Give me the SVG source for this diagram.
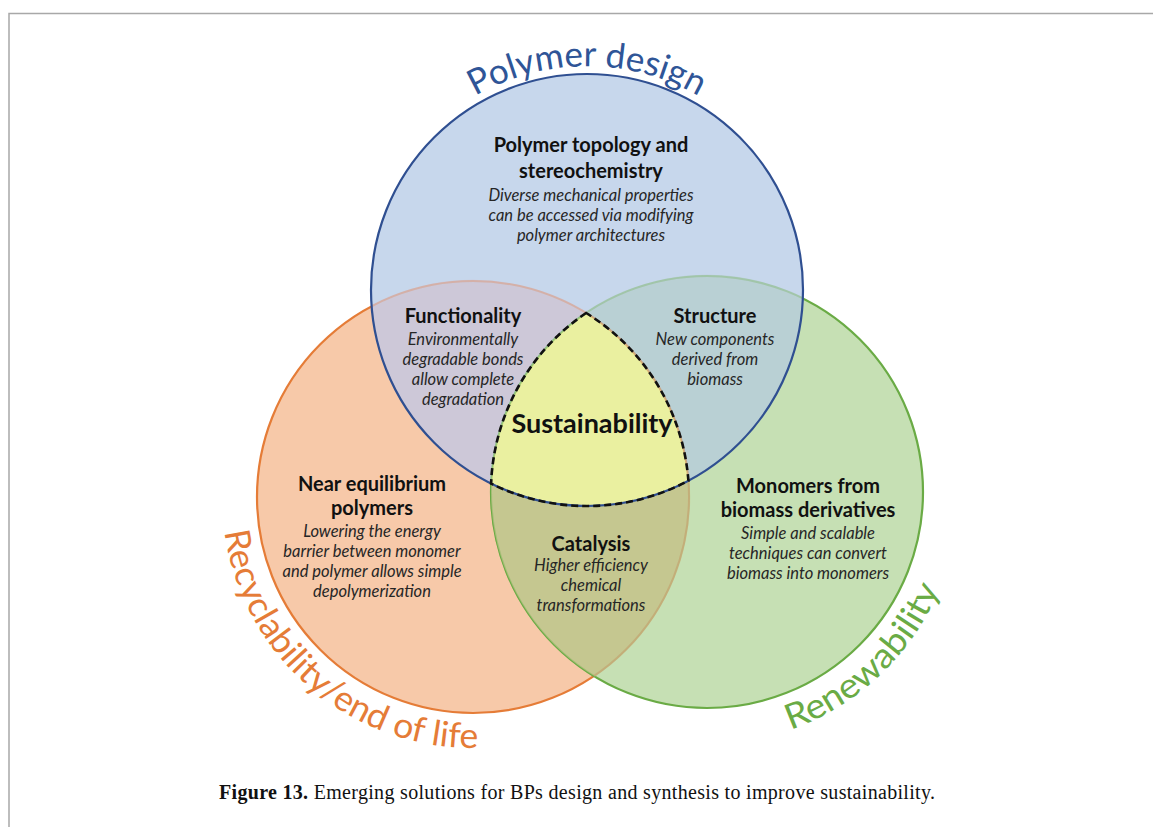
<svg xmlns="http://www.w3.org/2000/svg" width="1153" height="827" viewBox="0 0 1153 827">
<style>
.h{font-family:Lato,"Open Sans","Liberation Sans",sans-serif;font-weight:bold;font-size:20px;fill:#111;text-anchor:middle}
.d{font-family:Lato,"Open Sans","Liberation Sans",sans-serif;font-style:italic;font-size:16.5px;fill:#262626;text-anchor:middle}
.arc{font-family:Lato,"Open Sans","Liberation Sans",sans-serif;font-size:35px}
.cap{font-family:"Liberation Serif",serif;font-size:20px;fill:#111}
</style>
<defs>
<clipPath id="cB"><circle cx="587" cy="290" r="216"/></clipPath>
<clipPath id="cO"><circle cx="473" cy="497" r="216"/></clipPath>
<clipPath id="cG"><circle cx="707" cy="492" r="216"/></clipPath>
<path id="lens" d="M586.1,313 A216,216 0 0 0 491.1,483.6 A216,216 0 0 0 688.4,480.7 A216,216 0 0 0 586.1,313 Z"/>
<path id="pTop" d="M443,118.4 A225,225 0 0 1 731,118.4"/>
<path id="pLeft" d="M222,497 A251,251 0 0 0 558.8,732.9"/>
<path id="pRight" d="M707,744 A252,252 0 0 0 955.2,535.8"/>
</defs>
<rect width="1153" height="827" fill="#fff"/>
<g id="frame" fill="none" stroke="#a8a8a8" stroke-width="1.5">
<path d="M9,827 V13.5 H1153"/>
</g>
<g id="circles">
<circle id="circle-recyclability" cx="473" cy="497" r="216" fill="#f7c9a9" stroke="#e57c37" stroke-width="2.2"/>
<circle id="circle-renewability" cx="707" cy="492" r="216" fill="#c6e0b4" stroke="#6aab45" stroke-width="2.2"/>
<circle cx="587" cy="290" r="216" fill="#c7d7ec"/>
<circle cx="473" cy="497" r="217.2" fill="#c5c790" clip-path="url(#cG)"/>
<circle cx="473" cy="497" r="217.2" fill="#cdc8d8" clip-path="url(#cB)"/>
<circle cx="707" cy="492" r="217.2" fill="#b9d0d4" clip-path="url(#cB)"/>
<use href="#lens" fill="#eaf0a0"/>
<circle cx="473" cy="497" r="216" fill="none" stroke="#e57c37" stroke-opacity="0.3" stroke-width="2" clip-path="url(#cB)"/>
<circle cx="707" cy="492" r="216" fill="none" stroke="#6aab45" stroke-opacity="0.3" stroke-width="2" clip-path="url(#cB)"/>
<circle cx="473" cy="497" r="216" fill="none" stroke="#c08050" stroke-opacity="0.35" stroke-width="2" clip-path="url(#cG)"/>
<circle cx="707" cy="492" r="216" fill="none" stroke="#6aab45" stroke-opacity="0.35" stroke-width="2" clip-path="url(#cO)"/>
<circle id="circle-polymer" cx="587" cy="290" r="216" fill="none" stroke="#2f4f91" stroke-width="2.2"/>
<use id="sustainability-outline" href="#lens" fill="none" stroke="#111" stroke-width="2.6" stroke-dasharray="7,4"/>
</g>
<g id="arc-labels" class="arc">
<text fill="#2f5597" text-anchor="middle"><textPath href="#pTop" startOffset="50%" textLength="234" lengthAdjust="spacingAndGlyphs">Polymer design</textPath></text>
<text fill="#e57c37"><textPath href="#pLeft" startOffset="35" textLength="364" lengthAdjust="spacingAndGlyphs">Recyclability/end of life</textPath></text>
<text fill="#6aab45"><textPath href="#pRight" startOffset="85" textLength="211" lengthAdjust="spacingAndGlyphs">Renewability</textPath></text>
</g>
<g id="node-topology">
<text class="h" x="591" y="152">Polymer topology and</text>
<text class="h" x="591" y="178">stereochemistry</text>
<text class="d" x="591" y="201">Diverse mechanical properties</text>
<text class="d" x="591" y="221">can be accessed via modifying</text>
<text class="d" x="591" y="241">polymer architectures</text>
</g>
<g id="node-functionality">
<text class="h" x="463" y="323">Functionality</text>
<text class="d" x="463" y="345">Environmentally</text>
<text class="d" x="463" y="365">degradable bonds</text>
<text class="d" x="463" y="385">allow complete</text>
<text class="d" x="463" y="405">degradation</text>
</g>
<g id="node-structure">
<text class="h" x="715" y="323">Structure</text>
<text class="d" x="715" y="345">New components</text>
<text class="d" x="715" y="365">derived from</text>
<text class="d" x="715" y="385">biomass</text>
</g>
<g id="node-sustainability">
<text class="h" x="592" y="433" style="font-size:27px">Sustainability</text>
</g>
<g id="node-near-equilibrium">
<text class="h" x="372" y="491">Near equilibrium</text>
<text class="h" x="372" y="515">polymers</text>
<text class="d" x="372" y="537">Lowering the energy</text>
<text class="d" x="372" y="557">barrier between monomer</text>
<text class="d" x="372" y="577">and polymer allows simple</text>
<text class="d" x="372" y="597">depolymerization</text>
</g>
<g id="node-monomers">
<text class="h" x="808" y="493">Monomers from</text>
<text class="h" x="808" y="517">biomass derivatives</text>
<text class="d" x="808" y="539">Simple and scalable</text>
<text class="d" x="808" y="559">techniques can convert</text>
<text class="d" x="808" y="579">biomass into monomers</text>
</g>
<g id="node-catalysis">
<text class="h" x="591" y="551">Catalysis</text>
<text class="d" x="591" y="571">Higher efficiency</text>
<text class="d" x="591" y="591">chemical</text>
<text class="d" x="591" y="611">transformations</text>
</g>
<g id="caption">
<text class="cap" x="219" y="799" textLength="716" lengthAdjust="spacing"><tspan font-weight="bold">Figure 13.</tspan> Emerging solutions for BPs design and synthesis to improve sustainability.</text>
</g>
</svg>
